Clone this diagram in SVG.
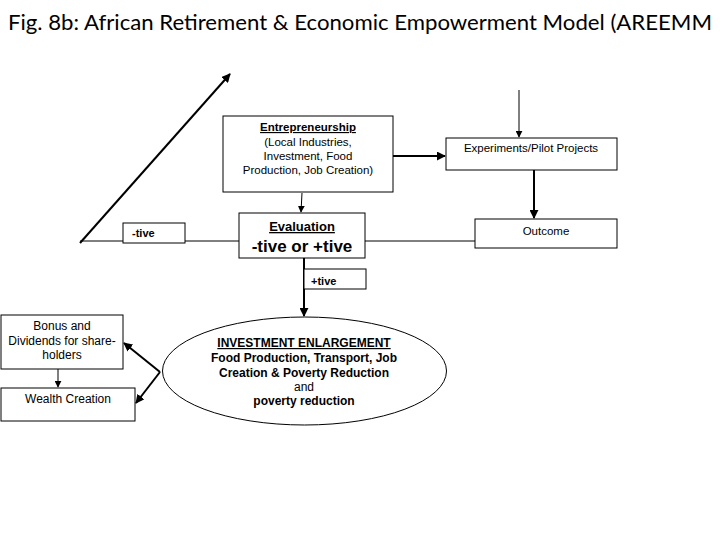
<svg xmlns="http://www.w3.org/2000/svg" width="720" height="540" viewBox="0 0 720 540">
<style>
.box{fill:#fff;stroke:#000;stroke-width:1}
.t{font-family:"Liberation Sans",Arial,sans-serif;font-size:12px;fill:#000;text-anchor:middle}
.s{font-size:11.5px}
.b{font-weight:bold}
.u{text-decoration:underline}
.thin{stroke:#000;stroke-width:1;fill:none}
.thick{stroke:#000;stroke-width:2;fill:none}
</style>
<defs>
<marker id="ah" viewBox="0 0 10 10" refX="9" refY="5" markerWidth="4.5" markerHeight="4.5" markerUnits="strokeWidth" orient="auto"><path d="M0,0 L10,5 L0,10 z" fill="#000"/></marker>
<marker id="ah1" viewBox="0 0 10 10" refX="9" refY="5" markerWidth="7" markerHeight="7" markerUnits="strokeWidth" orient="auto"><path d="M0,0 L10,5 L0,10 z" fill="#000"/></marker>
</defs>
<rect width="720" height="540" fill="#fff"/>
<text x="8" y="30" font-family="Lato,'Open Sans','Liberation Sans',sans-serif" font-size="22" textLength="704" lengthAdjust="spacingAndGlyphs">Fig. 8b: African Retirement &amp; Economic Empowerment Model (AREEMM</text>
<g id="connectors">
<line class="thick" x1="80" y1="243" x2="230" y2="74" marker-end="url(#ah)"/>
<line class="thin" x1="80" y1="241" x2="239" y2="241"/>
<line class="thin" x1="365" y1="241" x2="480" y2="241"/>
<line class="thick" x1="393" y1="156" x2="445" y2="156" marker-end="url(#ah)"/>
<line class="thin" x1="519" y1="90" x2="519" y2="137" marker-end="url(#ah1)"/>
<line class="thick" x1="534" y1="170" x2="534" y2="218" marker-end="url(#ah)"/>
<line class="thin" x1="302" y1="193" x2="301" y2="212" marker-end="url(#ah1)"/>
<line class="thick" x1="304" y1="258" x2="304" y2="316" marker-end="url(#ah)"/>
<line class="thick" x1="160" y1="372" x2="124" y2="343" marker-end="url(#ah)"/>
<line class="thick" x1="160" y1="372" x2="136" y2="403" marker-end="url(#ah)"/>
<line class="thin" x1="58" y1="369" x2="58" y2="387" marker-end="url(#ah1)"/>
</g>
<g id="neg">
<rect class="box" x="123" y="223" width="62" height="20"/>
<text class="t b" x="132" y="237" style="text-anchor:start;font-size:11px">-tive</text>
</g>
<g id="entrepreneurship">
<rect class="box" x="223" y="116" width="170" height="76"/>
<text class="t s b u" x="308" y="131">Entrepreneurship</text>
<text class="t s" x="308" y="146">(Local Industries,</text>
<text class="t s" x="308" y="160">Investment, Food</text>
<text class="t s" x="308" y="174">Production, Job Creation)</text>
</g>
<g id="experiments">
<rect class="box" x="446" y="138" width="171" height="32"/>
<text class="t s" x="531" y="152">Experiments/Pilot Projects</text>
</g>
<g id="outcome">
<rect class="box" x="475" y="219" width="142" height="29"/>
<text class="t s" x="546" y="235">Outcome</text>
</g>
<g id="evaluation">
<rect class="box" x="239" y="213" width="126" height="45"/>
<text class="t b u" x="302" y="231" style="font-size:13px">Evaluation</text>
<text class="t b" x="302" y="252" style="font-size:17px">-tive or +tive</text>
</g>
<g id="pos">
<rect class="box" x="304" y="269" width="62" height="20"/>
<text class="t b" x="311" y="285" style="text-anchor:start;font-size:11px">+tive</text>
</g>
<g id="investment">
<ellipse class="box" cx="304.5" cy="371" rx="142" ry="54"/>
<text class="t b u" x="304" y="347">INVESTMENT ENLARGEMENT</text>
<text class="t b" x="304" y="362">Food Production, Transport, Job</text>
<text class="t b" x="304" y="377">Creation &amp; Poverty Reduction</text>
<text class="t" x="304" y="391">and</text>
<text class="t b" x="304" y="405">poverty reduction</text>
</g>
<g id="bonus">
<rect class="box" x="1" y="315" width="122" height="54"/>
<text class="t" x="62" y="330">Bonus and</text>
<text class="t" x="62" y="345">Dividends for share-</text>
<text class="t" x="62" y="359">holders</text>
</g>
<g id="wealth">
<rect class="box" x="1" y="388" width="134" height="33"/>
<text class="t" x="68" y="403">Wealth Creation</text>
</g>
</svg>
